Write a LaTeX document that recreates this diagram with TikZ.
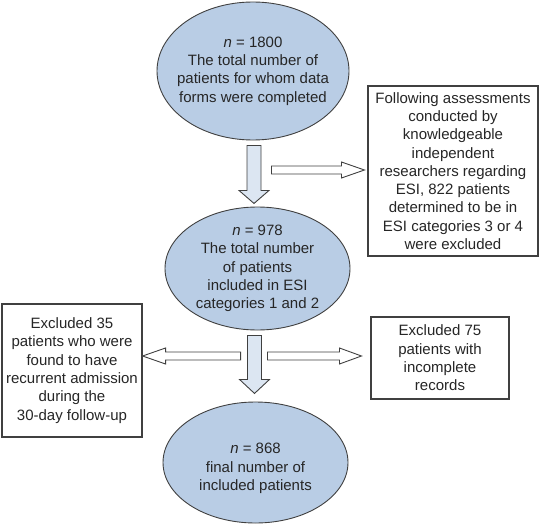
\documentclass[tikz,border=0pt]{standalone}
\usepackage{fontspec}
\setmainfont{Liberation Sans}
\usepackage{xcolor}
\usepackage{tikz}
\usetikzlibrary{calc, shapes.geometric}

\definecolor{stagefill}{HTML}{B9CDE5}
\definecolor{arrowfill}{HTML}{DCE6F2}
\definecolor{edgegray}{HTML}{404040}
\definecolor{textgray}{HTML}{262626}

\begin{document}
\begin{tikzpicture}[x=1pt, y=-1pt,
    stage/.style={draw=edgegray, ellipse, fill=stagefill, line width=0.9pt},
    caption/.style={align=center, text=textgray, font=\fontsize{15}{18.3}\selectfont},
    exclusion/.style={draw=edgegray, rectangle, fill=white, line width=1.1pt, caption},
    downflow/.style={draw=edgegray, fill=arrowfill, line width=0.9pt},
    sideflow/.style={draw=edgegray, fill=white, line width=0.9pt}]
      \useasboundingbox (0,0) rectangle (540,524);
      % stages
      \node[stage, minimum width=192pt, minimum height=138pt,
        label={[caption]center:{\textit{n} = 1800\\The total number of\\patients for whom data\\forms were completed}}] (n1) at (253,71) {};
      \node[stage, minimum width=185pt, minimum height=123pt,
        label={[caption]center:{\textit{n} = 978\\The total number\\of patients\\included in ESI\\categories 1 and 2}}] (n2) at (257.5,268.5) {};
      \node[stage, minimum width=185pt, minimum height=121pt,
        label={[caption, yshift=-6pt]center:{\textit{n} = 868\\final number of\\included patients}}] (n3) at (255.5,462.5) {};
      % exclusions
      \node[exclusion, minimum width=170pt, minimum height=170pt] (b1) at (453,171)
        {Following assessments\\conducted by\\knowledgeable\\independent\\researchers regarding\\ESI, 822 patients\\determined to be in\\ESI categories 3 or 4\\were excluded};
      \node[exclusion, minimum width=140pt, minimum height=133pt] (bl) at (72,370.5)
        {Excluded 35\\patients who were\\found to have\\recurrent admission\\during the\\30-day follow-up};
      \node[exclusion, minimum width=138pt, minimum height=82pt] (br) at (440,358)
        {Excluded 75\\patients with\\incomplete\\records};
      % block arrows
      \draw[downflow] ($(n1.south)+(-6,5)$) -- ++(0,45) -- ++(-8,0) -- ++(15,13) -- ++(15,-13) -- ++(-8,0) -- ++(0,-45) -- cycle;
      \draw[downflow] ($(n2.south)+(-10,5)$) -- ++(0,44) -- ++(-8,0) -- ++(15,14) -- ++(15,-14) -- ++(-8,0) -- ++(0,-44) -- cycle;
      \draw[sideflow] ($(b1.west)+(-3,-1)$) -- ++(-23,-8) -- ++(0,4) -- ++(-70,0) -- ++(0,8) -- ++(70,0) -- ++(0,4) -- cycle;
      \draw[sideflow] ($(bl.east)+(0,-14.5)$) -- ++(23,-8) -- ++(0,4) -- ++(75,0) -- ++(0,8) -- ++(-75,0) -- ++(0,4) -- cycle;
      \draw[sideflow] ($(br.west)+(-9,-2)$) -- ++(-22,-8) -- ++(0,4) -- ++(-72,0) -- ++(0,8) -- ++(72,0) -- ++(0,4) -- cycle;
    \end{tikzpicture}
\end{document}
